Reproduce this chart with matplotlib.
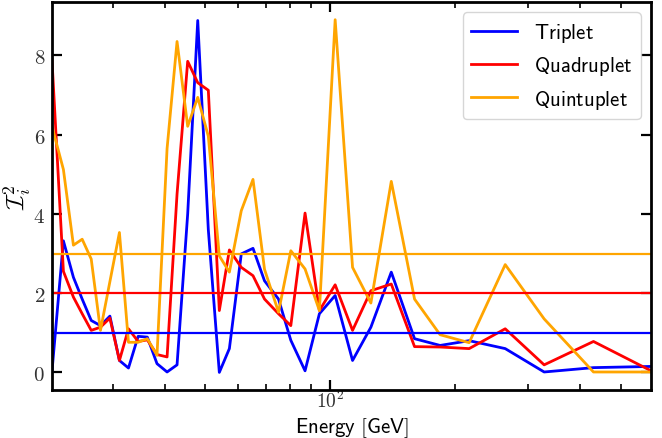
import matplotlib
matplotlib.use("Agg")
import matplotlib.pyplot as plt
from matplotlib.ticker import NullFormatter, FuncFormatter, FixedFormatter
import numpy as np

plt.rcParams['mathtext.fontset'] = 'cm'

energy = [21.4, 22.8, 24.1, 25.3, 26.6, 28.0, 29.5, 31.1, 32.7, 34.5, 36.3, 38.3,
          40.5, 42.8, 45.4, 48.0, 50.9, 54.1, 57.2, 61.1, 65.2, 69.5, 75.1, 80.4,
          87.0, 94.2, 102.8, 113.2, 125.3, 140.3, 159.6, 183.9, 216.0, 263.8,
          327.3, 430.2, 592.0]

triplet = [0.02, 3.32, 2.40, 1.85, 1.31, 1.18, 1.42, 0.30, 0.11, 0.91, 0.89, 0.22,
           0.01, 0.19, 4.0, 8.88, 3.6, 0.0, 0.60, 2.99, 3.13, 2.31, 1.85, 0.81,
           0.04, 1.48, 1.94, 0.30, 1.14, 2.53, 0.85, 0.68, 0.80, 0.60,
           0.01, 0.12, 0.15]

quadruplet = [7.89, 2.55, 1.90, 1.48, 1.06, 1.14, 1.37, 0.30, 1.10, 0.78, 0.82, 0.45,
              0.39, 4.5, 7.85, 7.31, 7.12, 1.56, 3.09, 2.65, 2.44, 1.85, 1.48, 1.18,
              4.02, 1.56, 2.21, 1.06, 2.06, 2.23, 0.65, 0.64, 0.60, 1.10,
              0.19, 0.78, 0.04]

quintuplet = [6.21, 5.12, 3.21, 3.36, 2.86, 1.06, 2.29, 3.53, 0.76, 0.76, 0.85, 0.43,
              5.65, 8.35, 6.21, 6.94, 5.96, 2.94, 2.53, 4.08, 4.87, 2.6, 1.52, 3.07,
              2.61, 1.56, 8.90, 2.65, 1.75, 4.82, 1.85, 0.95, 0.75, 2.72,
              1.35, 0.01, 0.01]

labels = ["Triplet", "Quadruplet", "Quintuplet"]
colors = ["blue", "red", "orange"]
thresholds = [1, 2, 3]
series = [triplet, quadruplet, quintuplet]
yticks = [0, 2, 4, 6, 8]

fig = plt.figure(figsize=(6.62, 4.39), dpi=100)
ax = fig.add_axes([0.0785, 0.1093, 0.905, 0.8837])

for s, c, lab in zip(series, colors, labels):
    ax.plot(energy, s, color=c, lw=2.0, label=r'$\mathsf{%s}$' % lab)
for c, t in zip(colors, thresholds):
    ax.axhline(t, color=c, lw=1.6)

ax.set_xscale('log')
ax.set_xlim(energy[0], energy[-1])
ax.set_yticks(yticks)
ax.yaxis.set_major_formatter(FixedFormatter([r'$%d$' % v for v in yticks]))
ax.xaxis.set_major_formatter(FuncFormatter(lambda v, p: r'$10^{%d}$' % int(round(np.log10(v)))))
ax.xaxis.set_minor_formatter(NullFormatter())

ax.tick_params(which='both', direction='in', top=True, right=True, labelsize=15,
               labelcolor='#333333')
ax.tick_params(which='major', length=7, width=1.6, pad=5)
ax.tick_params(which='minor', length=4, width=1.2)
ax.tick_params(axis='x', which='major', pad=0, labelsize=14)
for sp in ax.spines.values():
    sp.set_linewidth(2)

ax.set_xlabel(r"$\mathsf{Energy\ [GeV]}$", fontsize=15)
ax.xaxis.set_label_coords(0.5, -0.066)
ax.set_ylabel(r"$\mathcal{I}_i^2$", fontsize=18)
ax.yaxis.set_label_coords(-0.03, 0.5)

ax.legend(loc='upper right', fontsize=15, handlelength=2.2)

fig.savefig("out.png", dpi=100)
